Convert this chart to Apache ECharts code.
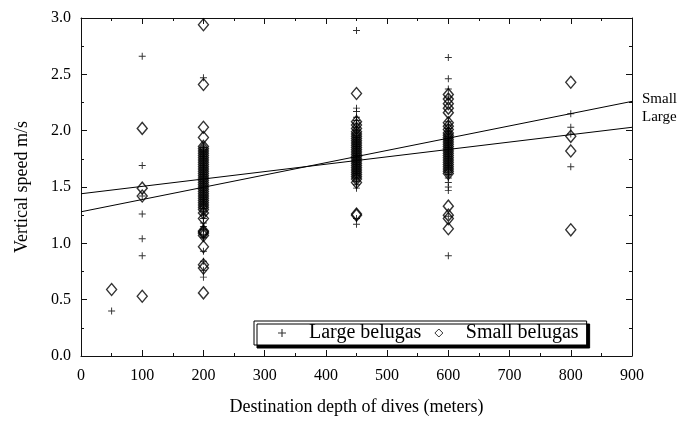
<!DOCTYPE html>
<html>
<head>
  <meta charset="utf-8">
</head>
<body style="margin: 0">
  <div id="container" style="width: 687px; height: 421px"></div>

  <script type="text/javascript" src="https://fastly.jsdelivr.net/npm/echarts@6/dist/echarts.min.js"></script>
  <script type="text/javascript">
    // dive depths (m) and the vertical speeds read at each depth
    var depths = [50, 100, 200, 450, 600, 800];
    var largeSpeeds = [
      [0.40],
      [2.66, 1.69, 1.42, 1.26, 1.04, 0.89],
      [2.47, 1.85, 1.83, 1.81, 1.79, 1.77, 1.75, 1.73, 1.71, 1.69, 1.67, 1.65, 1.63, 1.61, 1.59, 1.57,
       1.55, 1.53, 1.51, 1.49, 1.47, 1.45, 1.43, 1.41, 1.39, 1.37, 1.35, 1.33, 1.31, 1.28, 1.25, 1.22,
       1.18, 1.15, 1.12, 1.08, 1.05, 0.93, 0.84, 0.76, 0.70],
      [2.89, 2.20, 2.17, 2.12, 2.09, 2.06, 2.03, 2.00, 1.98, 1.96, 1.94, 1.92, 1.90, 1.88, 1.86, 1.84,
       1.82, 1.80, 1.78, 1.76, 1.74, 1.72, 1.70, 1.68, 1.66, 1.64, 1.62, 1.60, 1.58, 1.55, 1.52, 1.49,
       1.22, 1.17],
      [2.65, 2.46, 2.37, 2.30, 2.08, 2.05, 2.02, 1.99, 1.97, 1.95, 1.93, 1.91, 1.89, 1.87, 1.85, 1.83,
       1.81, 1.79, 1.77, 1.75, 1.73, 1.71, 1.69, 1.67, 1.65, 1.63, 1.61, 1.58, 1.54, 1.50, 1.47, 1.24,
       0.89],
      [2.15, 2.03, 1.97, 1.68]
    ];
    var smallSpeeds = [
      [0.59],
      [2.02, 1.49, 1.42, 0.53],
      [2.94, 2.41, 2.03, 1.94, 1.86, 1.84, 1.82, 1.80, 1.78, 1.76, 1.74, 1.72, 1.70, 1.68, 1.66, 1.64,
       1.62, 1.60, 1.58, 1.56, 1.54, 1.52, 1.50, 1.48, 1.46, 1.44, 1.42, 1.40, 1.38, 1.36, 1.34, 1.32,
       1.30, 1.27, 1.22, 1.11, 1.10, 1.09, 1.07, 0.97, 0.81, 0.78, 0.56],
      [2.33, 2.08, 2.05, 2.02, 1.99, 1.97, 1.95, 1.93, 1.91, 1.89, 1.87, 1.85, 1.83, 1.81, 1.79, 1.77,
       1.75, 1.73, 1.71, 1.69, 1.67, 1.65, 1.63, 1.61, 1.59, 1.57, 1.54, 1.26, 1.25],
      [2.32, 2.28, 2.24, 2.20, 2.16, 2.07, 2.04, 2.01, 1.98, 1.96, 1.94, 1.92, 1.90, 1.88, 1.86, 1.84,
       1.82, 1.80, 1.78, 1.76, 1.74, 1.72, 1.70, 1.68, 1.66, 1.64, 1.62, 1.33, 1.25, 1.22, 1.13],
      [2.43, 1.95, 1.82, 1.12]
    ];
    // regression lines, end points
    var smallFit = [[0, 1.28], [900, 2.26]];
    var largeFit = [[0, 1.44], [900, 2.03]];

    function pairs(speeds) {
      var out = [];
      speeds.forEach(function (list, i) {
        list.forEach(function (v) { out.push([depths[i], v]); });
      });
      return out;
    }

    var font = 'Liberation Serif';
    var plusPath = 'path://M4.3,0H5.7V10H4.3ZM0,4.3H10V5.7H0Z';

    var dom = document.getElementById('container');
    var myChart = echarts.init(dom, null, { renderer: 'canvas' });

    var tickX = {
      min: 0, max: 900, interval: 100,
      axisLine: { show: true, onZero: false, lineStyle: { color: '#111', width: 1 } },
      axisTick: { show: true, inside: true, length: 6, lineStyle: { color: '#111' } },
      minorTick: { show: true, splitNumber: 2, length: 3, lineStyle: { color: '#111' } },
      splitLine: { show: false }
    };
    var tickY = {
      min: 0, max: 3, interval: 0.5,
      axisLine: { show: true, onZero: false, lineStyle: { color: '#111', width: 1 } },
      axisTick: { show: true, inside: true, length: 6, lineStyle: { color: '#111' } },
      minorTick: { show: true, splitNumber: 2, length: 3, lineStyle: { color: '#111' } },
      splitLine: { show: false }
    };

    var option = {
      animation: false,
      backgroundColor: '#fff',
      textStyle: { fontFamily: font, color: '#000' },
      grid: { left: 81, right: 55, top: 18, bottom: 61 },
      legend: {
        data: [
          { name: 'Large belugas', icon: plusPath, itemStyle: { borderWidth: 0 } },
          { name: 'Small belugas', icon: 'diamond', itemStyle: { borderWidth: 1 } }
        ],
        left: 254, top: 321,
        itemWidth: 8, itemHeight: 8, itemGap: 13,
        padding: [2, 8, 2, 24],
        backgroundColor: '#fff',
        borderColor: '#000', borderWidth: 1,
        shadowColor: '#000', shadowBlur: 0, shadowOffsetX: 3, shadowOffsetY: 3,
        textStyle: { fontFamily: font, fontSize: 20, color: '#000', padding: [0, 0, 0, 18] }
      },
      xAxis: [
        Object.assign({}, tickX, {
          type: 'value', position: 'bottom',
          name: 'Destination depth of dives (meters)',
          nameLocation: 'middle', nameGap: 42,
          nameTextStyle: { fontFamily: font, fontSize: 18, color: '#000' },
          axisLabel: { fontFamily: font, fontSize: 16, color: '#000', margin: 12 }
        }),
        Object.assign({}, tickX, {
          type: 'value', position: 'top', axisLabel: { show: false }
        })
      ],
      yAxis: [
        Object.assign({}, tickY, {
          type: 'value', position: 'left',
          name: 'Vertical speed m/s',
          nameLocation: 'middle', nameGap: 50,
          nameTextStyle: { fontFamily: font, fontSize: 18, color: '#000' },
          axisLabel: {
            fontFamily: font, fontSize: 16, color: '#000', margin: 10,
            formatter: function (v) { return v.toFixed(1); }
          }
        }),
        Object.assign({}, tickY, {
          type: 'value', position: 'right', axisLabel: { show: false }
        })
      ],
      series: [
        {
          name: 'Large belugas',
          type: 'scatter',
          symbol: plusPath,
          symbolSize: 7,
          itemStyle: { color: '#000' },
          data: pairs(largeSpeeds)
        },
        {
          name: 'Small belugas',
          type: 'scatter',
          symbol: 'diamond',
          symbolSize: [10, 12],
          itemStyle: { color: 'rgba(0,0,0,0)', borderColor: '#000', borderWidth: 1.4 },
          data: pairs(smallSpeeds)
        },
        {
          name: 'Small fit',
          type: 'line',
          symbol: 'none',
          silent: true,
          lineStyle: { color: '#000', width: 1 },
          endLabel: { show: true, formatter: 'Small', fontFamily: font, fontSize: 15, color: '#000', offset: [2, -2] },
          data: smallFit
        },
        {
          name: 'Large fit',
          type: 'line',
          symbol: 'none',
          silent: true,
          lineStyle: { color: '#000', width: 1 },
          endLabel: { show: true, formatter: 'Large', fontFamily: font, fontSize: 15, color: '#000', offset: [2, -10] },
          data: largeFit
        }
      ]
    };

    myChart.setOption(option);
    window.addEventListener('resize', myChart.resize);
  </script>
</body>
</html>
